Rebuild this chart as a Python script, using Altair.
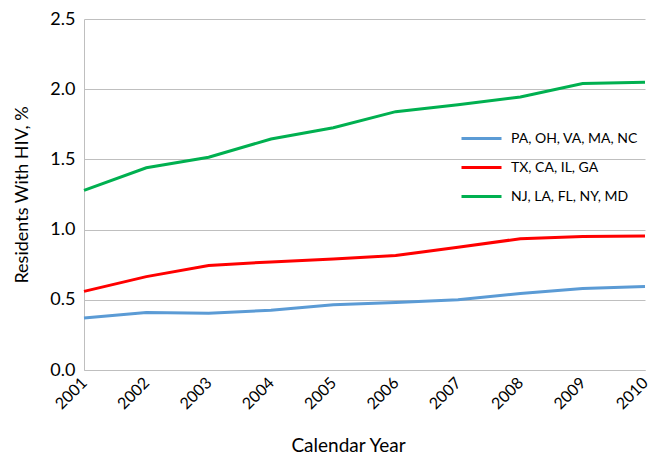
import altair as alt
import pandas as pd

years = [2001, 2002, 2003, 2004, 2005, 2006, 2007, 2008, 2009, 2010]
series_names = ["PA, OH, VA, MA, NC", "TX, CA, IL, GA", "NJ, LA, FL, NY, MD"]
blue_vals = [0.37, 0.41, 0.405, 0.425, 0.465, 0.48, 0.50, 0.545, 0.58, 0.595]
red_vals = [0.56, 0.665, 0.745, 0.77, 0.79, 0.815, 0.875, 0.935, 0.95, 0.955]
green_vals = [1.28, 1.44, 1.515, 1.645, 1.725, 1.84, 1.89, 1.945, 2.04, 2.05]
colors = ["#5B9BD5", "#FF0000", "#00B050"]

rows = []
for name, vals in zip(series_names, [blue_vals, red_vals, green_vals]):
    for y, v in zip(years, vals):
        rows.append({"Year": y, "Value": v, "Series": name})
df = pd.DataFrame(rows)

FONT = "Lato"

chart = alt.Chart(df).mark_line(strokeWidth=3).encode(
    x=alt.X("Year:Q",
            scale=alt.Scale(domain=[2001, 2010], nice=False, zero=False),
            axis=alt.Axis(values=years, format="d", labelAngle=-45, labelAlign="right",
                          labelBaseline="middle", labelPadding=10, ticks=False, grid=False,
                          domainColor="#BFBFBF", labelFontSize=16, labelColor="#000000",
                          title="Calendar Year", titleFontSize=19, titleFontWeight="normal",
                          titleColor="#000000", titleX=264, titleY=75, titleBaseline="middle",
                          titleAlign="center",
                          labelFont=FONT, titleFont=FONT, labelOverlap=False)),
    y=alt.Y("Value:Q",
            scale=alt.Scale(domain=[0, 2.5], nice=False),
            axis=alt.Axis(values=[0, 0.5, 1.0, 1.5, 2.0, 2.5], format=".1f", ticks=False,
                          grid=True, gridColor="#BFBFBF", domainColor="#BFBFBF",
                          labelFontSize=18, labelColor="#000000", labelPadding=9,
                          title="Residents With HIV, %", titleFontSize=18,
                          titleFontWeight="normal", titleColor="#000000", titlePadding=18,
                          labelFont=FONT, titleFont=FONT)),
    color=alt.Color("Series:N",
                    scale=alt.Scale(domain=series_names, range=colors),
                    sort=series_names,
                    legend=alt.Legend(title=None, orient="none", legendX=376, legendY=98,
                                      symbolType="stroke", symbolSize=1600, symbolStrokeWidth=3,
                                      labelFontSize=14, labelFont=FONT, labelColor="#000000",
                                      rowPadding=-3, padding=0, labelOffset=8)),
).properties(
    width=561,
    height=351,
    autosize=alt.AutoSizeParams(type="none"),
    padding={"left": 76, "top": 11, "right": 8, "bottom": 88},
).configure_view(stroke=None)

chart.save("out.html", embed_options={"renderer": "svg", "actions": False})
